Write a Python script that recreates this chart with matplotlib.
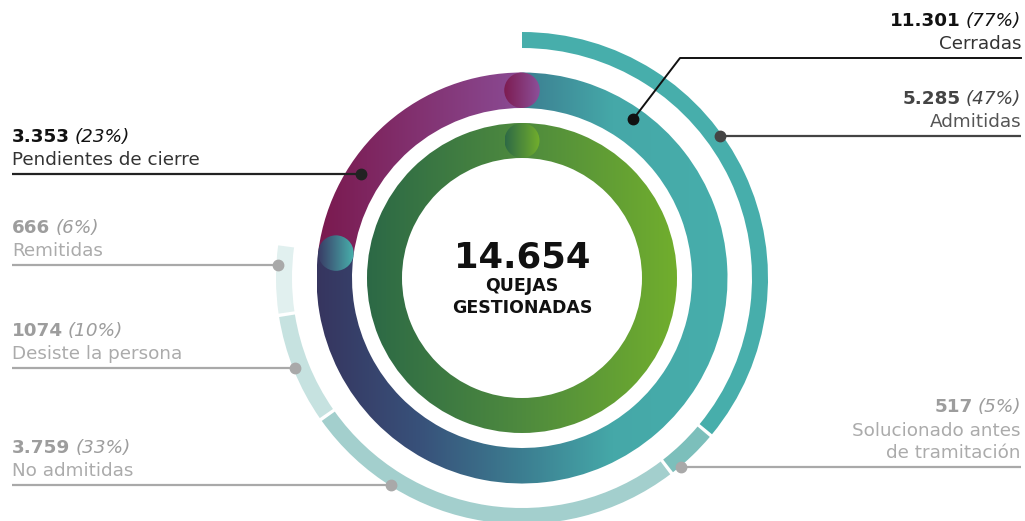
import numpy as np
import matplotlib
matplotlib.use("Agg")
import matplotlib.pyplot as plt
from matplotlib.patches import Wedge, Circle
from matplotlib.colors import LinearSegmentedColormap

# data
total = 14654
total_text = "14.654"
main_names = ["Cerradas", "Pendientes de cierre"]
main_values = [11301, 3353]
main_value_text = ["11.301", "3.353"]
main_pct = ["(77%)", "(23%)"]

closed_names = ["Admitidas", "Solucionado antes\nde tramitación", "No admitidas",
                "Desiste la persona", "Remitidas"]
closed_values = [5285, 517, 3759, 1074, 666]
closed_value_text = ["5.285", "517", "3.759", "1074", "666"]
closed_pct = ["(47%)", "(5%)", "(33%)", "(10%)", "(6%)"]
closed_colors = ["#47aeab", "#7cbfbb", "#a3cfcd", "#c6e2e0", "#e1f0ef"]

plt.rcParams["font.family"] = ["DejaVu Sans"]

CX, CY = 522, 278
W, H = 1025, 521
FS = 13.2

fig = plt.figure(figsize=(W / 100, H / 100), dpi=100)
ax = fig.add_axes([0, 0, 1, 1])


def grad_fill(patch, x0, x1, stops, z):
    cmap = LinearSegmentedColormap.from_list("g", stops)
    im = ax.imshow(np.linspace(0, 1, 256)[None, :], cmap=cmap,
                   extent=(x0, x1, CY + 260, CY - 260), aspect="auto",
                   zorder=z, interpolation="bilinear")
    patch.set_facecolor("none")
    patch.set_edgecolor("none")
    ax.add_patch(patch)
    im.set_clip_path(patch)


def polar(r, a):
    t = np.deg2rad(a)
    return CX + r * np.cos(t), CY + r * np.sin(t)


# inner green ring
G_out, G_w = 155, 35
grad_fill(Wedge((CX, CY), G_out, 0, 360, width=G_w), CX - G_out, CX + G_out,
          [(0, "#2c6946"), (0.5, "#4e8a3e"), (1, "#71ae2d")], 2)
gx, gy = polar(G_out - G_w / 2, -90)
grad_fill(Circle((gx, gy), G_w / 2), gx - G_w / 2, gx + G_w / 2,
          ["#2e6a46", "#72ae2c"], 3)

# middle ring: cerradas / pendientes
M_out, M_w = 205.5, 35.5
frac = main_values[0] / total
a0 = -90
a1 = -90 + 360 * frac
grad_fill(Wedge((CX, CY), M_out, a0, a1, width=M_w), CX - M_out, CX + M_out,
          [(0, "#36355f"), (0.25, "#38517a"), (0.5, "#3c7e91"), (0.72, "#45a8a8"), (1, "#47aeab")], 2)
grad_fill(Wedge((CX, CY), M_out, a1, 270, width=M_w), CX - M_out, CX + 20,
          ["#7a194e", "#8c509b"], 2)
rm = M_out - M_w / 2
cx1, cy1 = polar(rm, 270)
grad_fill(Circle((cx1, cy1), M_w / 2), cx1 - M_w / 2, cx1 + M_w / 2,
          ["#7d1c51", "#8c509a"], 4)
cx2, cy2 = polar(rm, a1)
grad_fill(Circle((cx2, cy2), M_w / 2), cx2 - M_w / 2, cx2 + M_w / 2,
          ["#393a65", "#48b1ac"], 4)

# outer ring: breakdown of cerradas
O_out, O_w = 246, 16
span = 360 * frac
gap = 0.8
cum = np.concatenate([[0], np.cumsum(closed_values)]) / sum(closed_values) * span + a0
for i, c in enumerate(closed_colors):
    t1 = cum[i] + (gap / 2 if i > 0 else 0)
    t2 = cum[i + 1] - (gap / 2 if i < len(closed_colors) - 1 else 0)
    ax.add_patch(Wedge((CX, CY), O_out, t1, t2, width=O_w, facecolor=c,
                       edgecolor="none", zorder=2))


# labels
def label(side, line_y, dot_x, value, pct, name, c_num, c_txt, c_line,
          elbow=None, dot=None):
    n_lines = name.count("\n") + 1
    xs = 12 if side == "left" else 1021
    ha = "left" if side == "left" else "right"
    y_num = line_y - 32 - 23 * (n_lines - 1)
    ax.text(xs, line_y - 9, name, ha=ha, va="baseline", fontsize=FS,
            color=c_txt, linespacing=1.25, zorder=6)
    if side == "left":
        t = ax.text(xs, y_num, value, ha="left", va="baseline", fontsize=FS,
                    fontweight="bold", color=c_num, zorder=6)
        ax.annotate(pct, xy=(1, 0), xycoords=t, xytext=(3.5, 0),
                    textcoords="offset points", ha="left", va="bottom",
                    fontsize=FS, style="italic", color=c_num, zorder=6)
    else:
        t = ax.text(xs, y_num, pct, ha="right", va="baseline", fontsize=FS,
                    style="italic", color=c_num, zorder=6)
        ax.annotate(value, xy=(0, 0), xycoords=t, xytext=(-3.5, 0),
                    textcoords="offset points", ha="right", va="bottom",
                    fontsize=FS, fontweight="bold", color=c_num, zorder=6)
    if elbow is None:
        ax.plot([xs, dot_x], [line_y, line_y], color=c_line, lw=1.6, zorder=5,
                solid_capstyle="butt")
        ax.plot(dot_x, line_y, "o", ms=7.5, color=c_line, zorder=6)
    else:
        ax.plot([xs, elbow, dot[0]], [line_y, line_y, dot[1]], color=c_line,
                lw=1.4, zorder=5)
        ax.plot(dot[0], dot[1], "o", ms=7.5, color=c_line, zorder=6)


def ring_x(r, y, side):
    dx = np.sqrt(r ** 2 - (y - CY) ** 2)
    return CX + dx if side == "right" else CX - dx


gray_num, gray_txt, gray_line = "#9d9d9d", "#ababab", "#a9a9a9"

# cerradas
label("right", 58, None, main_value_text[0], main_pct[0], main_names[0],
      "#111111", "#333333", "#111111", elbow=680, dot=polar(194, -55))
# pendientes
label("left", 174, ring_x(192, 174, "left"), main_value_text[1], main_pct[1],
      main_names[1], "#111111", "#333333", "#222222")
# admitidas
label("right", 136, ring_x(244, 136, "right"), closed_value_text[0],
      closed_pct[0], closed_names[0], "#444444", "#555555", "#444444")
# solucionado
label("right", 467, ring_x(247, 467, "right"), closed_value_text[1],
      closed_pct[1], closed_names[1], gray_num, gray_txt, gray_line)
# no admitidas
label("left", 485, ring_x(245, 485, "left"), closed_value_text[2],
      closed_pct[2], closed_names[2], gray_num, gray_txt, gray_line)
# desiste
label("left", 368, ring_x(244, 368, "left"), closed_value_text[3],
      closed_pct[3], closed_names[3], gray_num, gray_txt, gray_line)
# remitidas
label("left", 265, ring_x(244, 265, "left"), closed_value_text[4],
      closed_pct[4], closed_names[4], gray_num, gray_txt, gray_line)

# centre text
ax.text(CX, 267, total_text, ha="center", va="baseline", fontsize=25.5,
        fontweight="bold", color="#111111", zorder=6)
ax.text(CX, 291, "QUEJAS", ha="center", va="baseline", fontsize=12.5,
        fontweight="bold", color="#111111", zorder=6)
ax.text(CX, 313, "GESTIONADAS", ha="center", va="baseline", fontsize=12.5,
        fontweight="bold", color="#111111", zorder=6)

ax.set_xlim(0, W)
ax.set_ylim(H, 0)
ax.axis("off")
fig.savefig("out.png", dpi=100, facecolor="white")
